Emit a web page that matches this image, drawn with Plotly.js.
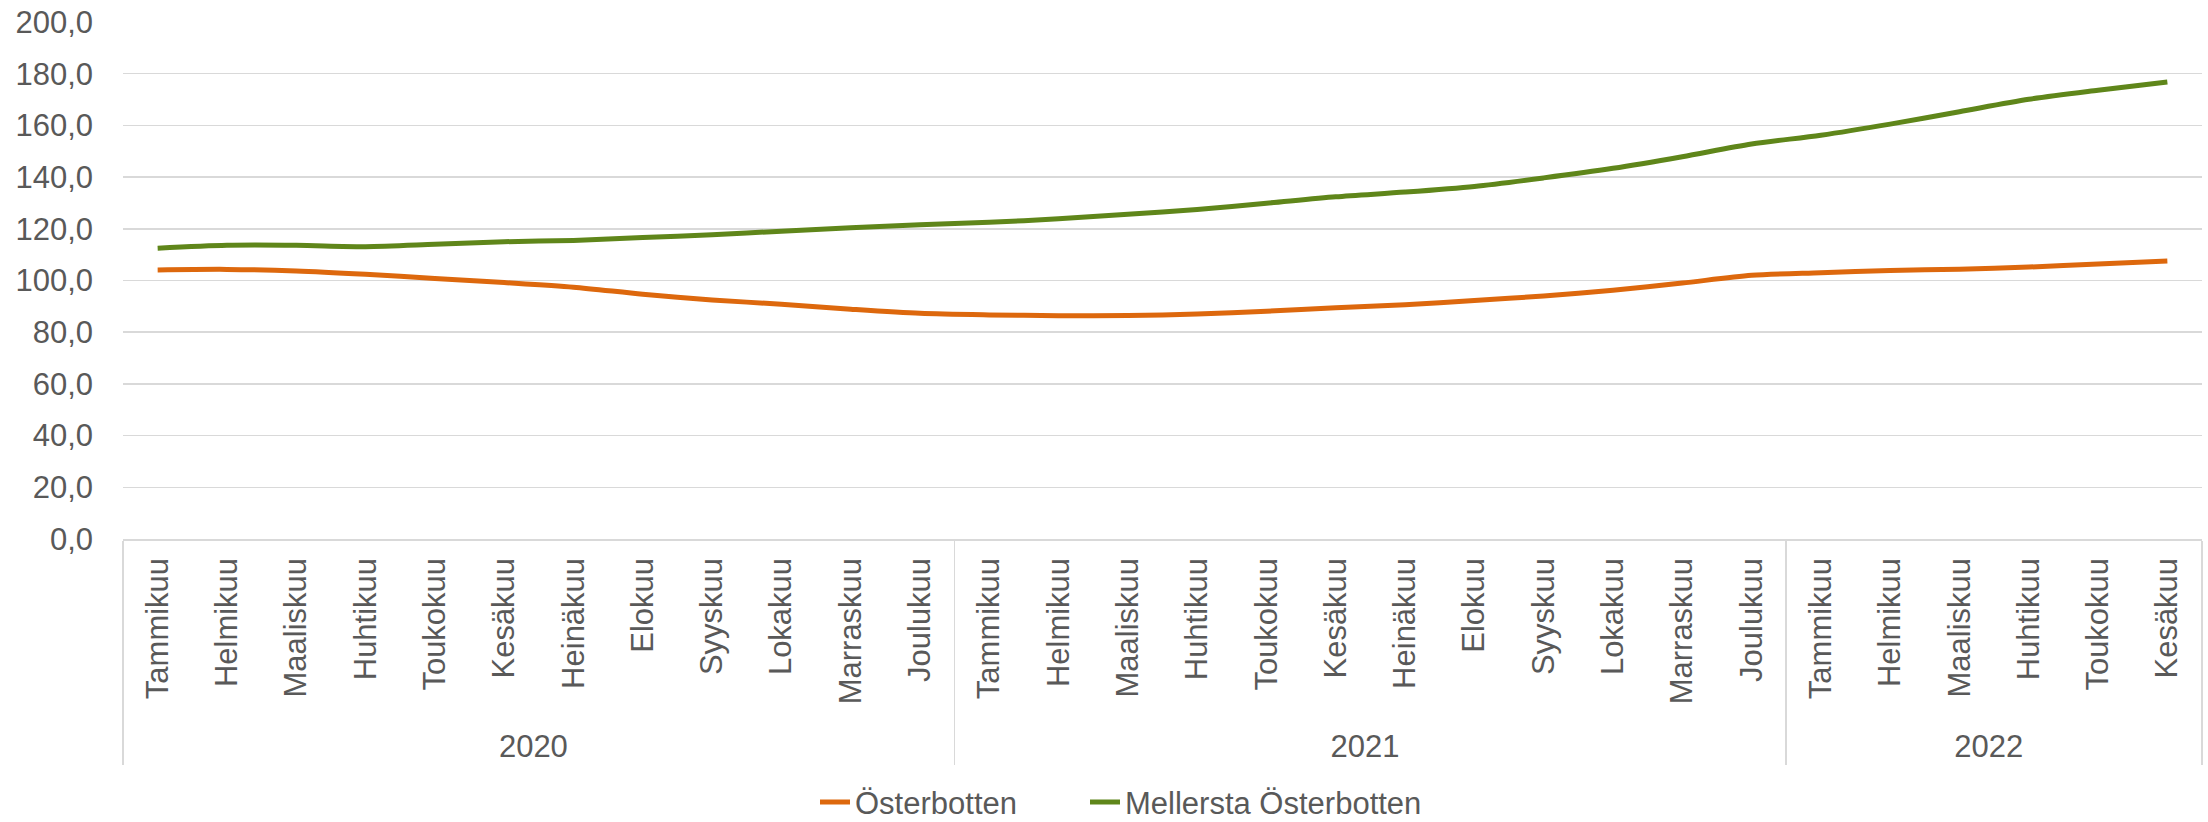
<!DOCTYPE html>
<html>
<head>
<meta charset="utf-8">
<script src="https://cdn.plot.ly/plotly-3.0.1.min.js"></script>
<style>
html, body { margin: 0; padding: 0; background: #ffffff; }
#chart { width: 2208px; height: 822px; }
</style>
</head>
<body>
<div id="chart"></div>
<script>
// ---- data ----
const years = ['2020','2020','2020','2020','2020','2020','2020','2020','2020','2020','2020','2020',
               '2021','2021','2021','2021','2021','2021','2021','2021','2021','2021','2021','2021',
               '2022','2022','2022','2022','2022','2022'];
const months = ['Tammikuu','Helmikuu','Maaliskuu','Huhtikuu','Toukokuu','Kesäkuu','Heinäkuu','Elokuu','Syyskuu','Lokakuu','Marraskuu','Joulukuu',
                'Tammikuu','Helmikuu','Maaliskuu','Huhtikuu','Toukokuu','Kesäkuu','Heinäkuu','Elokuu','Syyskuu','Lokakuu','Marraskuu','Joulukuu',
                'Tammikuu','Helmikuu','Maaliskuu','Huhtikuu','Toukokuu','Kesäkuu'];
const osterbotten = [104.1, 104.3, 103.7, 102.4, 100.8, 99.2, 97.4, 94.7, 92.5, 90.8, 88.9, 87.3,
                     86.7, 86.4, 86.5, 87.0, 88.1, 89.5, 90.6, 92.3, 94.0, 96.2, 99.0, 102.0,
                     103.0, 103.9, 104.4, 105.2, 106.4, 107.5];
const mellerstaOsterbotten = [112.5, 113.6, 113.6, 113.1, 114.0, 115.0, 115.5, 116.6, 117.7, 119.1, 120.4, 121.6,
                              122.5, 123.9, 125.6, 127.5, 129.9, 132.4, 134.2, 136.4, 139.7, 143.4, 147.9, 152.8,
                              156.2, 160.5, 165.3, 170.1, 173.6, 176.8];
const seriesNames = ['Österbotten', 'Mellersta Österbotten'];

// ---- style ----
const FONT = 'Arial, "Liberation Sans", sans-serif';
const TXT = '#595959';
const GRID = '#d9d9d9';

const traces = [
  {
    type: 'scatter', mode: 'lines', name: seriesNames[0],
    x: [years, months], y: osterbotten,
    line: { color: '#DD680D', width: 5, shape: 'spline', smoothing: 0.8 },
    legend: 'legend',
    hoverinfo: 'skip'
  },
  {
    type: 'scatter', mode: 'lines', name: seriesNames[1],
    x: [years, months], y: mellerstaOsterbotten,
    line: { color: '#5F861A', width: 5, shape: 'spline', smoothing: 0.8 },
    legend: 'legend2',
    hoverinfo: 'skip'
  }
];

const legendBase = {
  orientation: 'h',
  xref: 'container', yref: 'container',
  xanchor: 'left',
  y: 0.024, yanchor: 'middle',
  bgcolor: 'rgba(0,0,0,0)',
  font: { family: FONT, color: TXT, size: 31 },
  itemclick: false, itemdoubleclick: false
};

const layout = {
  width: 2208, height: 822,
  paper_bgcolor: '#ffffff', plot_bgcolor: '#ffffff',
  margin: { l: 123, r: 6, t: 22, b: 283, pad: 0 },
  separators: ', ',
  font: { family: FONT, color: TXT, size: 31 },
  showlegend: true,
  legend: Object.assign({}, legendBase, { x: 815 / 2208 }),
  legend2: Object.assign({}, legendBase, { x: 1085 / 2208 }),
  xaxis: {
    type: 'multicategory',
    range: [-0.5, 29.5],
    automargin: false,
    showgrid: false,
    showline: true, linecolor: GRID, linewidth: 1.5,
    ticks: '',
    tickangle: -90,
    tickfont: { family: FONT, color: TXT, size: 31 },
    showdividers: true, dividercolor: GRID, dividerwidth: 1.5,
    ticklabelstandoff: 5,
    fixedrange: true
  },
  yaxis: {
    range: [0, 200],
    dtick: 20, tick0: 0,
    tickformat: '.1f',
    automargin: false,
    showgrid: true, gridcolor: GRID, gridwidth: 1.5,
    zeroline: false,
    showline: false,
    ticks: '',
    ticklabelstandoff: 29,
    tickfont: { family: FONT, color: TXT, size: 31 },
    fixedrange: true
  }
};

Plotly.newPlot('chart', traces, layout, { displayModeBar: false, staticPlot: true });
</script>
</body>
</html>
